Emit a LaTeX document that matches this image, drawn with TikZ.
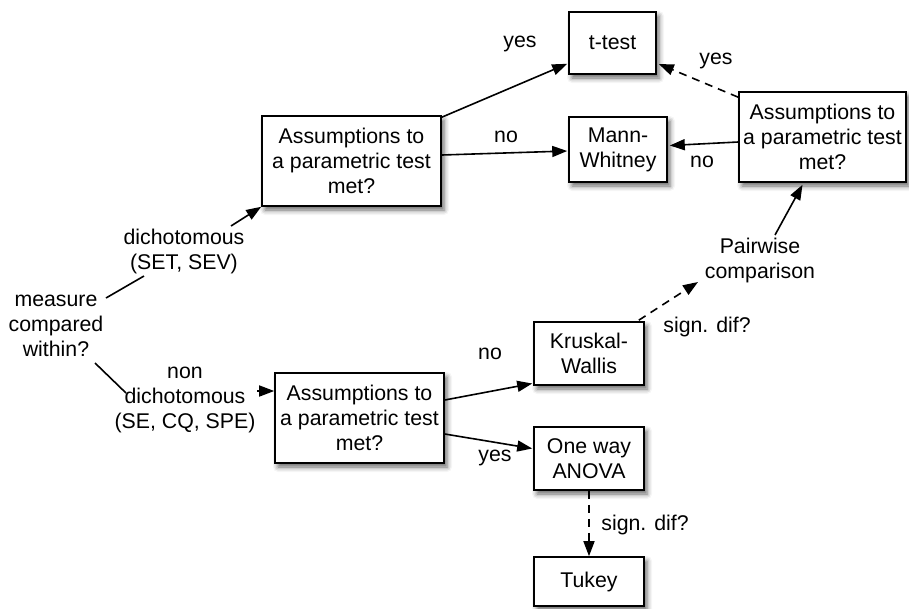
\documentclass[tikz,border=0pt]{standalone}
\usepackage{fontspec}
\setmainfont{Liberation Sans}
\usetikzlibrary{arrows.meta,calc,shadows.blur}
\begin{document}
\begin{tikzpicture}[x=1pt,y=-1pt,
  font=\fontsize{21.3}{25}\selectfont,
  box/.style={draw=black,line width=1.6pt,fill=white,align=center,inner sep=0pt,
    blur shadow={shadow xshift=3pt,shadow yshift=-4pt,shadow blur radius=5pt,shadow opacity=60}},
  lbl/.style={align=center,inner sep=0pt},
  conn/.style={line width=1.6pt,-{Triangle[length=15pt,width=11pt]}},
  plain/.style={line width=1.6pt},
  dconn/.style={conn,dash pattern=on 8pt off 6pt}]
\useasboundingbox (0,0) rectangle (909,608);
% boxes
\node[box,minimum width=87pt,minimum height=62pt] (ttest) at (612.5,43) {t-test};
\node[box,minimum width=98pt,minimum height=65pt] (mann) at (618,149.5) {Mann-\\Whitney};
\node[box,minimum width=179pt,minimum height=90pt] (a1) at (351.5,161) {Assumptions to\\a parametric test\\met?};
\node[box,minimum width=167pt,minimum height=90pt] (a2) at (822.5,137) {Assumptions to\\a parametric test\\met?};
\node[box,minimum width=169pt,minimum height=90pt] (a3) at (359.5,418) {Assumptions to\\a parametric test\\met?};
\node[box,minimum width=110pt,minimum height=63pt] (kw) at (589,353.5) {Kruskal-\\Wallis};
\node[box,minimum width=110pt,minimum height=63pt] (anova) at (589,458.5) {One way\\ANOVA};
\node[box,minimum width=110pt,minimum height=49pt] (tukey) at (589,581.5) {Tukey};
% text nodes
\node[lbl] (meas) at (56,326) {measure\\compared\\within?};
\node[lbl] (dich) at (184,251) {dichotomous\\(SET, SEV)};
\node[lbl] (nd) at (185,400) {non\\dichotomous\\(SE, CQ, SPE)};
\node[lbl] (pw) at (760,260) {Pairwise\\comparison};
\node[lbl] (yes1) at (520,44) {yes};
\node[lbl] (no1) at (506,137) {no};
\node[lbl] (yes2) at (716,61) {yes};
\node[lbl] (no2) at (702,162) {no};
\node[lbl] (no3) at (490,354) {no};
\node[lbl] (yes3) at (495,458) {yes};
\node[lbl] (sd1) at (707,327) {sign. dif?};
\node[lbl] (sd2) at (645,525) {sign. dif?};
% connectors
\draw[plain] ($(meas)+(50,-28)$) -- ($(dich)+(-40,25)$);
\draw[conn] ($(dich)+(47,-25)$) -- (a1.south west);
\draw[plain] ($(meas)+(39,37)$) -- ($(nd)+(-59,-7)$);
\draw[conn] ($(nd)+(72,-9)$) -- ($(a3.west)+(0,-27)$);
\draw[conn] ($(a1.north east)+(0,2)$) -- ($(ttest.south west)+(-1,-11)$);
\draw[conn] ($(a1.east)+(0,-6)$) -- ($(mann.west)+(-1,1.5)$);
\draw[dconn] ($(a2.north west)+(0,6)$) -- ($(ttest.east)+(2,21)$);
\draw[conn] ($(a2.west)+(0,5)$) -- ($(mann.east)+(2,-4)$);
\draw[conn] ($(pw)+(15,-25)$) -- ($(a2.south)+(-20,2)$);
\draw[dconn] ($(kw.north east)+(-6,-1)$) -- ($(pw)+(-62,22)$);
\draw[conn] ($(a3.east)+(0,-18)$) -- ($(kw.west)+(-1,30)$);
\draw[conn] ($(a3.east)+(0,16)$) -- ($(anova.west)+(-1,-10)$);
\draw[dconn] (anova.south) -- (tukey.north);
\end{tikzpicture}
\end{document}
